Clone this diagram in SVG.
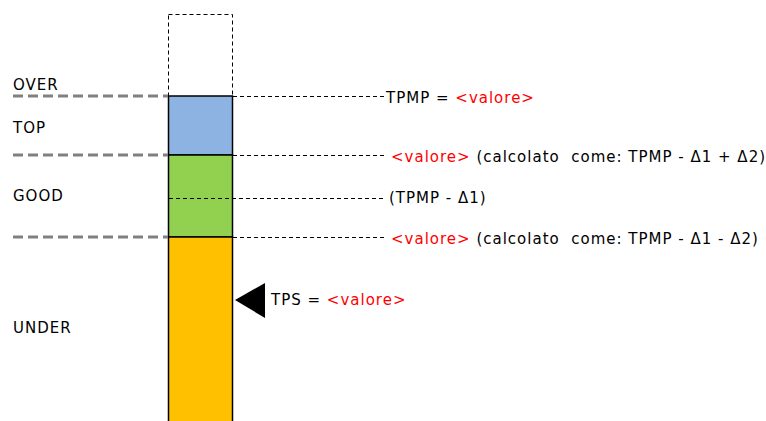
<svg xmlns="http://www.w3.org/2000/svg" width="766" height="421" viewBox="0 0 766 421">
<style>
.lbl{font-family:"DejaVu Sans",sans-serif;font-size:15px;letter-spacing:1px;fill:#000;white-space:pre}
.red{fill:#ff0000}
.gray{stroke:#808080;stroke-width:3;stroke-dasharray:10 5;fill:none}
.thin{stroke:#000;stroke-width:1;stroke-dasharray:4 3;fill:none}
.seg{stroke:#000;stroke-width:1.5}
</style>
<rect width="766" height="421" fill="#fff"/>
<g id="over-box"><rect x="168.5" y="14.5" width="64" height="82" fill="none" class="thin"/></g>
<g id="top-seg"><rect x="168.5" y="96" width="64" height="59" fill="#8DB3E2" class="seg"/></g>
<g id="good-seg"><rect x="168.5" y="155" width="64" height="82" fill="#92D050" class="seg"/></g>
<g id="under-seg"><rect x="168.5" y="237" width="64" height="186" fill="#FFC000" class="seg"/></g>
<g id="connectors">
<line x1="13" y1="96" x2="168" y2="96" class="gray"/>
<line x1="13" y1="155" x2="168" y2="155" class="gray"/>
<line x1="13" y1="237" x2="168" y2="237" class="gray"/>
<line x1="233" y1="96.5" x2="384" y2="96.5" class="thin"/>
<line x1="233" y1="155.5" x2="384" y2="155.5" class="thin"/>
<line x1="169" y1="198.5" x2="384" y2="198.5" class="thin"/>
<line x1="233" y1="237.5" x2="384" y2="237.5" class="thin"/>
</g>
<g id="labels">
<text class="lbl" x="13" y="90">OVER</text>
<text class="lbl" x="13" y="133">TOP</text>
<text class="lbl" x="13" y="201">GOOD</text>
<text class="lbl" x="13" y="333">UNDER</text>
</g>
<g id="tpmp"><text class="lbl" x="386" y="103">TPMP = <tspan class="red">&lt;valore&gt;</tspan></text></g>
<g id="upper"><text class="lbl" x="391" y="162"><tspan class="red">&lt;valore&gt;</tspan> (calcolato  come: TPMP - Δ1 + Δ2)</text></g>
<g id="mid"><text class="lbl" x="389" y="203">(TPMP - Δ1)</text></g>
<g id="lower"><text class="lbl" x="391" y="244"><tspan class="red">&lt;valore&gt;</tspan> (calcolato  come: TPMP - Δ1 - Δ2)</text></g>
<g id="tps">
<polygon points="235,300 265,283 265,318" fill="#000"/>
<text class="lbl" x="271" y="305">TPS = <tspan class="red">&lt;valore&gt;</tspan></text>
</g>
</svg>
